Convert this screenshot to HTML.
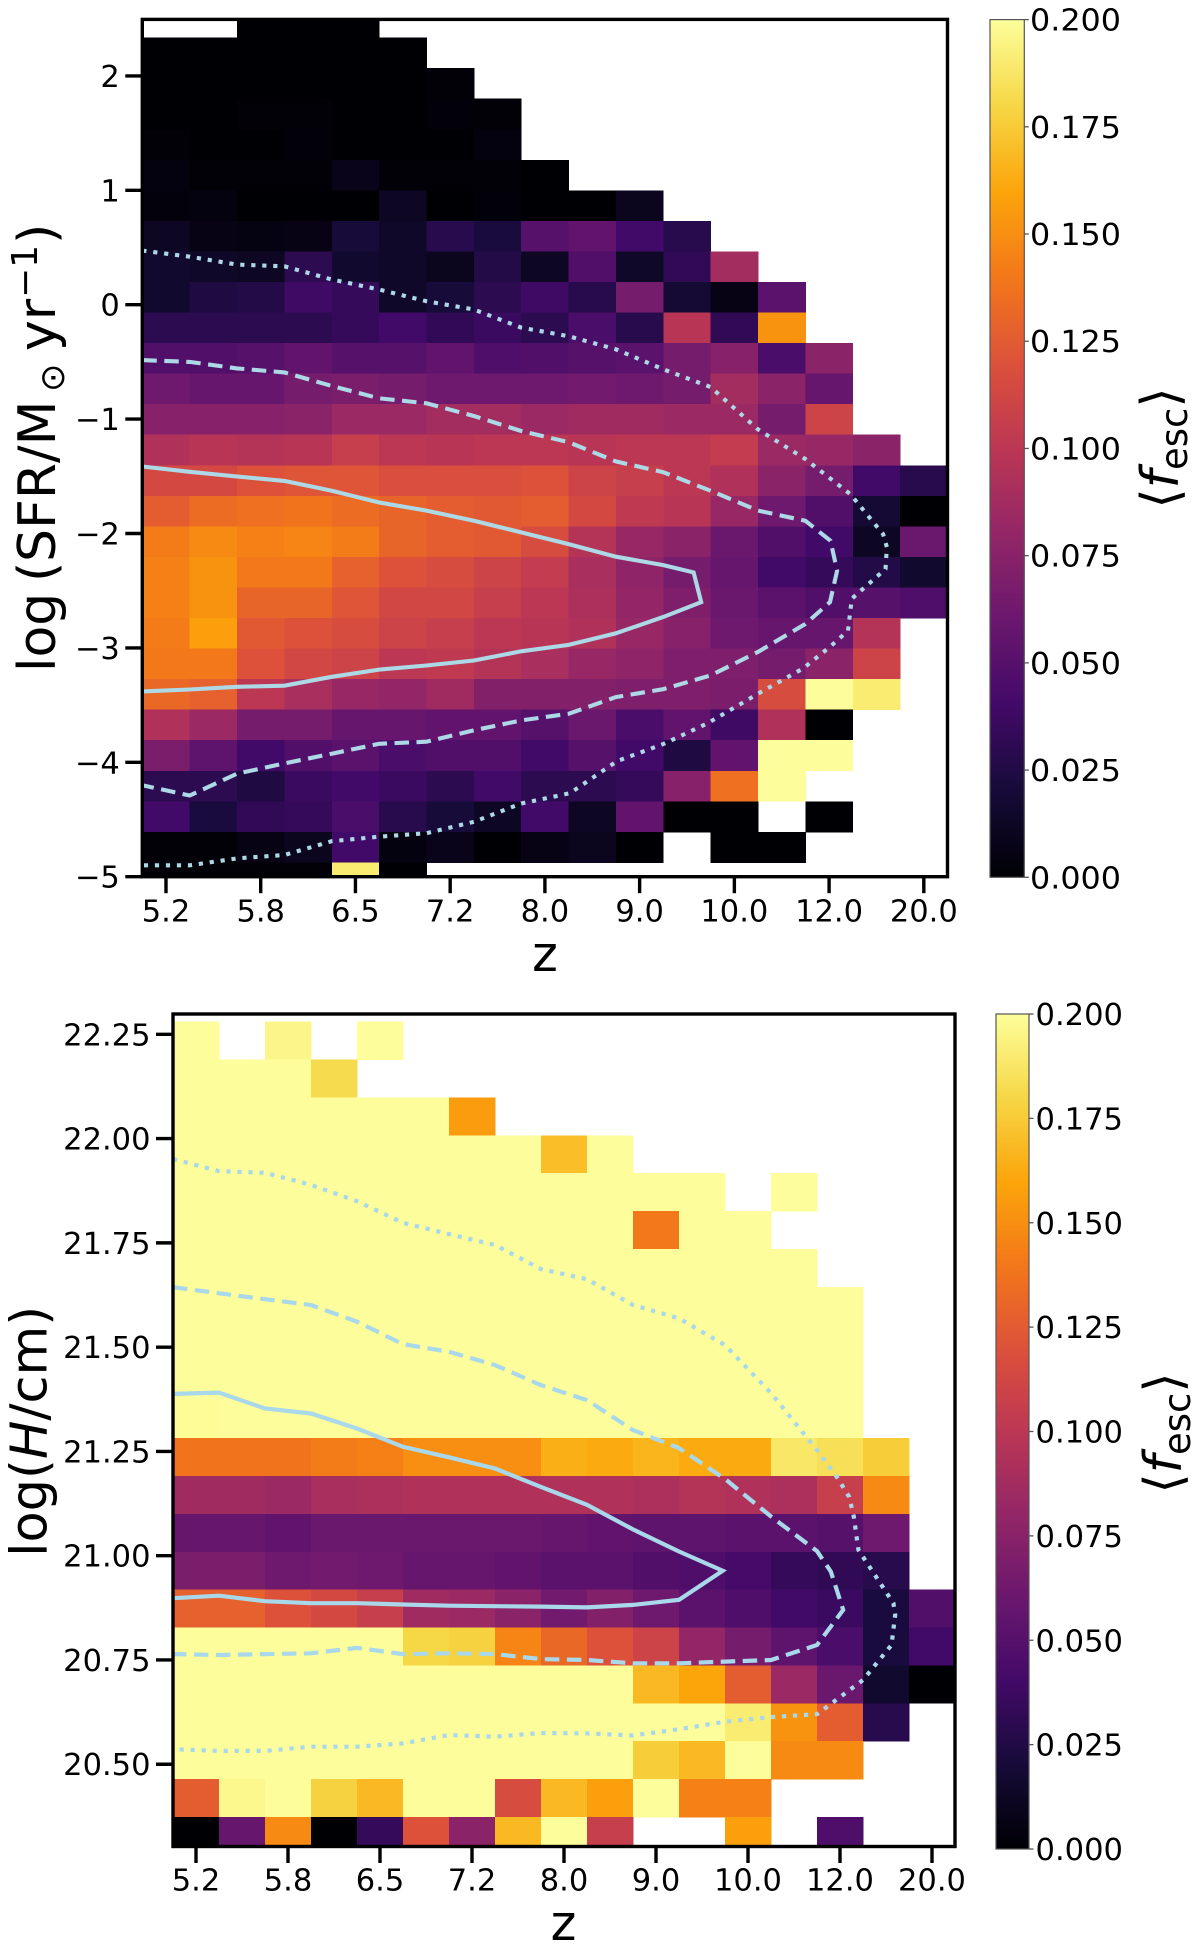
<!DOCTYPE html>
<html lang="en">
<head>
<meta charset="utf-8">
<title>Mean escape fraction heatmaps</title>
<style>
html,body{margin:0;padding:0;background:#fff;width:1200px;height:1957px;overflow:hidden}
svg{display:block}
text{font-family:"DejaVu Sans","Liberation Sans",sans-serif;fill:#000}
</style>
</head>
<body>
<svg id="chart" xmlns="http://www.w3.org/2000/svg" width="1200" height="1957" viewBox="0 0 1200 1957">
  <defs id="defs"></defs>
  <g id="panel-top"></g>
  <g id="panel-bottom"></g>

  <text x="545" y="971" text-anchor="middle" font-size="49">z</text>
  <text x="563.5" y="1940" text-anchor="middle" font-size="49">z</text>

  <text transform="translate(55,667) rotate(-90)" font-size="52"><tspan x="-5" y="0">log</tspan><tspan x="85" y="0">(</tspan><tspan x="105" y="0">SFR/M</tspan><tspan x="275" y="9" font-size="34">⊙</tspan><tspan x="316" y="0">yr</tspan><tspan x="369" y="-18" font-size="36">−1</tspan><tspan x="423" y="0">)</tspan></text>

  <text transform="translate(46.7,1551.7) rotate(-90)" font-size="51"><tspan x="-5">log(</tspan><tspan font-style="italic">H</tspan><tspan>/cm)</tspan></text>

  <text transform="translate(1178,448) rotate(-90)" text-anchor="middle" font-size="52">⟨<tspan font-style="italic">f</tspan><tspan font-size="37" dy="9">esc</tspan><tspan dy="-9">⟩</tspan></text>
  <text transform="translate(1181,1433) rotate(-90)" text-anchor="middle" font-size="52">⟨<tspan font-style="italic">f</tspan><tspan font-size="37" dy="9">esc</tspan><tspan dy="-9">⟩</tspan></text>
</svg>

<script>
const _ = null;

/* ---------- shared axis data ---------- */
const zTickLabels = ['5.2','5.8','6.5','7.2','8.0','9.0','10.0','12.0','20.0'];
const colorbarTicks = [0, 0.025, 0.05, 0.075, 0.1, 0.125, 0.15, 0.175, 0.2];
const sfrTicks = [2, 1, 0, -1, -2, -3, -4, -5];
const sfrTickLabels = ['2','1','0','−1','−2','−3','−4','−5'];
const sizeTicks = [22.25, 22, 21.75, 21.5, 21.25, 21, 20.75, 20.5];
const sizeTickLabels = ['22.25','22.00','21.75','21.50','21.25','21.00','20.75','20.50'];

/* ---------- top heatmap: mean f_esc per (z bin, SFR bin); rows run top to bottom ---------- */
const sfrRow00 = [_,_,0,0,0,_,_,_,_,_,_,_,_,_,_,_,_];
const sfrRow01 = [0,0,0,0,0,0,_,_,_,_,_,_,_,_,_,_,_];
const sfrRow02 = [0,0,0,0,0,0,.001,_,_,_,_,_,_,_,_,_,_];
const sfrRow03 = [0,0,.001,.001,0,0,.002,.001,_,_,_,_,_,_,_,_,_];
const sfrRow04 = [.001,0,0,.002,0,0,0,.004,_,_,_,_,_,_,_,_,_];
const sfrRow05 = [.004,.001,.001,.001,.008,.001,.001,.001,0,_,_,_,_,_,_,_,_];
const sfrRow06 = [.003,.004,0,0,0,.012,0,.002,0,0,.010,_,_,_,_,_,_];
const sfrRow07 = [.012,.006,.005,.006,.020,.014,.028,.022,.05,.056,.040,.028,_,_,_,_,_];
const sfrRow08 = [.016,.014,.012,.030,.016,.014,.010,.026,.012,.048,.014,.032,.088,_,_,_,_];
const sfrRow09 = [.016,.024,.026,.038,.034,.014,.020,.030,.038,.028,.066,.018,.006,.052,_,_,_];
const sfrRow10 = [.030,.030,.030,.030,.034,.040,.032,.036,.030,.044,.028,.098,.032,.152,_,_,_];
const sfrRow11 = [.048,.048,.050,.056,.050,.050,.056,.046,.048,.050,.052,.066,.074,.044,.076,_,_];
const sfrRow12 = [.062,.058,.058,.066,.068,.066,.062,.062,.062,.064,.062,.066,.088,.076,.058,_,_];
const sfrRow13 = [.074,.074,.074,.076,.084,.084,.088,.088,.084,.086,.086,.084,.084,.066,.110,_,_];
const sfrRow14 = [.094,.098,.096,.098,.106,.100,.098,.100,.100,.098,.100,.100,.104,.084,.082,.076,_];
const sfrRow15 = [.114,.114,.120,.122,.122,.118,.118,.118,.120,.110,.106,.100,.094,.076,.066,.040,.028];
const sfrRow16 = [.126,.134,.136,.138,.134,.130,.126,.124,.126,.114,.102,.098,.082,.062,.048,.018,0];
const sfrRow17 = [.142,.148,.144,.146,.142,.130,.126,.124,.116,.096,.082,.076,.060,.048,.040,.012,.060];
const sfrRow18 = [.144,.152,.140,.140,.128,.120,.116,.110,.104,.090,.078,.066,.058,.040,.034,.026,.016];
const sfrRow19 = [.144,.152,.130,.130,.122,.112,.112,.106,.100,.092,.080,.070,.060,.052,.048,.050,.046];
const sfrRow20 = [.142,.158,.124,.120,.116,.110,.106,.100,.098,.094,.082,.074,.062,.058,.058,.096,_];
const sfrRow21 = [.140,.140,.120,.112,.110,.100,.102,.096,.090,.082,.078,.070,.070,.066,.076,.110,_];
const sfrRow22 = [.132,.128,.100,.090,.082,.080,.086,.072,.072,.072,.070,.070,.068,.116,.200,.190,_];
const sfrRow23 = [.094,.084,.066,.066,.058,.058,.056,.056,.050,.060,.044,.056,.038,.094,0,_,_];
const sfrRow24 = [.068,.054,.040,.048,.052,.044,.048,.048,.040,.050,.040,.024,.056,.200,.200,_,_];
const sfrRow25 = [.030,.030,.024,.036,.040,.036,.030,.040,.030,.030,.034,.074,.136,.200,_,_,_];
const sfrRow26 = [.040,.022,.032,.034,.044,.028,.020,.012,.040,.012,.056,0,0,_,0,_,_];
const sfrRow27 = [.001,.001,.006,.010,.040,.004,.008,0,.006,.010,0,_,0,0,_,_,_];
const sfrRow28 = [.001,.001,.001,.001,.190,0,_,_,_,_,_,_,_,_,_,_,_];
const sfrGrid = [sfrRow00,sfrRow01,sfrRow02,sfrRow03,sfrRow04,sfrRow05,sfrRow06,sfrRow07,sfrRow08,sfrRow09,sfrRow10,sfrRow11,sfrRow12,sfrRow13,sfrRow14,sfrRow15,sfrRow16,sfrRow17,sfrRow18,sfrRow19,sfrRow20,sfrRow21,sfrRow22,sfrRow23,sfrRow24,sfrRow25,sfrRow26,sfrRow27,sfrRow28];

/* top contours: z-bin edge index and log SFR */
const sfrSolidZ = [0,1,2,3,4,5,6,7,8,9,10,11,11.64,11.8,11,10,9,8,7,6,5,4,3,2,1,0];
const sfrSolidV = [-1.414,-1.461,-1.502,-1.54,-1.627,-1.729,-1.80,-1.889,-1.99,-2.093,-2.203,-2.276,-2.34,-2.60,-2.73,-2.872,-2.974,-3.03,-3.11,-3.154,-3.19,-3.253,-3.33,-3.34,-3.364,-3.38];
const sfrDashedZ = [0,1,2,3,4,5,6,7,8,9,10,11,12,13,14,14.53,14.67,14.52,14,13,12,11,10,9,8,7,6,5,4,3,2,1,0];
const sfrDashedV = [-.484,-.50,-.557,-.592,-.711,-.818,-.862,-.973,-1.104,-1.202,-1.37,-1.464,-1.627,-1.80,-1.889,-2.064,-2.325,-2.6,-2.79,-3.035,-3.24,-3.36,-3.43,-3.576,-3.634,-3.72,-3.82,-3.838,-3.925,-4.01,-4.1,-4.29,-4.2];
const sfrDottedZ = [0,1,2,3,4,5,6,7,8,9,10,11,12,13,14,14.95,15.64,15.72,15.69,14.98,14.9,14.52,13.95,13,11.93,11,10.02,9.03,8,7,6,5,4,3,2,1,0];
const sfrDottedV = [.473,.42,.351,.336,.22,.133,.03,-.042,-.2,-.275,-.39,-.565,-.72,-1.09,-1.35,-1.656,-2.005,-2.12,-2.31,-2.57,-2.85,-2.99,-3.18,-3.4,-3.66,-3.84,-3.99,-4.27,-4.36,-4.52,-4.62,-4.65,-4.69,-4.81,-4.84,-4.9,-4.9];

/* ---------- bottom heatmap: mean f_esc per (z bin, log H bin); rows run top to bottom ---------- */
const sizeRow00 = [.2,_,.196,_,.2,_,_,_,_,_,_,_,_,_,_,_,_];
const sizeRow01 = [.2,.2,.2,.182,_,_,_,_,_,_,_,_,_,_,_,_,_];
const sizeRow02 = [.2,.2,.2,.2,.2,.2,.156,_,_,_,_,_,_,_,_,_,_];
const sizeRow03 = [.2,.2,.2,.2,.2,.2,.2,.2,.17,.2,_,_,_,_,_,_,_];
const sizeRow04 = [.2,.2,.2,.2,.2,.2,.2,.2,.2,.2,.2,.2,_,.2,_,_,_];
const sizeRow05 = [.2,.2,.2,.2,.2,.2,.2,.2,.2,.2,.14,.2,.2,_,_,_,_];
const sizeRow06 = [.2,.2,.2,.2,.2,.2,.2,.2,.2,.2,.2,.2,.2,.2,_,_,_];
const sizeRow07 = [.2,.2,.2,.2,.2,.2,.2,.2,.2,.2,.2,.2,.2,.2,.2,_,_];
const sizeRow08 = [.2,.2,.2,.2,.2,.2,.2,.2,.2,.2,.2,.2,.2,.2,.2,_,_];
const sizeRow09 = [.2,.2,.2,.2,.2,.2,.2,.2,.2,.2,.2,.2,.2,.2,.2,_,_];
const sizeRow10 = [.199,.2,.2,.2,.2,.2,.2,.2,.2,.2,.2,.2,.2,.2,.2,_,_];
const sizeRow11 = [.138,.138,.138,.142,.144,.150,.150,.150,.164,.162,.166,.162,.162,.188,.184,.176,_];
const sizeRow12 = [.086,.086,.084,.090,.092,.094,.094,.094,.094,.094,.092,.096,.094,.092,.106,.148,_];
const sizeRow13 = [.058,.058,.056,.060,.060,.060,.060,.060,.058,.056,.054,.054,.052,.052,.050,.062,_];
const sizeRow14 = [.068,.068,.062,.064,.062,.058,.058,.056,.052,.052,.048,.046,.042,.034,.032,.028,_];
const sizeRow15 = [.128,.128,.120,.114,.106,.086,.084,.076,.064,.072,.062,.052,.046,.040,.036,.022,.048];
const sizeRow16 = [.2,.2,.2,.2,.2,.18,.178,.146,.132,.120,.110,.080,.066,.054,.044,.022,.040];
const sizeRow17 = [.2,.2,.2,.2,.2,.2,.2,.2,.2,.2,.168,.160,.126,.084,.060,.016,0];
const sizeRow18 = [.2,.2,.2,.2,.2,.2,.2,.2,.2,.2,.2,.2,.190,.152,.126,.028,_];
const sizeRow19 = [.2,.2,.2,.2,.2,.2,.2,.2,.2,.2,.176,.168,.2,.148,.148,_,_];
const sizeRow20 = [.126,.197,.2,.178,.168,.2,.2,.116,.168,.158,.2,.144,.144,_,_,_,_];
const sizeRow21 = [0,.058,.148,0,.034,.120,.076,.168,.2,.106,_,_,.158,_,.046,_,_];
const sizeGrid = [sizeRow00,sizeRow01,sizeRow02,sizeRow03,sizeRow04,sizeRow05,sizeRow06,sizeRow07,sizeRow08,sizeRow09,sizeRow10,sizeRow11,sizeRow12,sizeRow13,sizeRow14,sizeRow15,sizeRow16,sizeRow17,sizeRow18,sizeRow19,sizeRow20,sizeRow21];

/* bottom contours: z-bin edge index and log H */
const sizeSolidZ = [0,1,2,3,4,5,6,7,8,9,10,11,11.95,11,10,9,8,7,6,5,4,3,2,1,0];
const sizeSolidV = [21.388,21.391,21.353,21.341,21.305,21.261,21.236,21.209,21.165,21.122,21.063,21.01,20.964,20.894,20.882,20.876,20.878,20.879,20.88,20.883,20.886,20.886,20.891,20.904,20.898];
const sizeDashedZ = [0,1,2,3,4,5,6,7,8,9,10,11,12,13,14,14.3,14.57,14,13,12,11,10,9,8,7,6,5,4,3,2,1,0];
const sizeDashedV = [21.644,21.629,21.615,21.601,21.561,21.507,21.489,21.457,21.409,21.373,21.301,21.258,21.184,21.094,21.011,20.962,20.87,20.786,20.75,20.746,20.742,20.742,20.75,20.752,20.764,20.766,20.764,20.779,20.766,20.764,20.762,20.764];
const sizeDottedZ = [0,1,2,3,4,5,6,7,8,9,10,11,12,13,14,14.43,14.7,14.8,14.9,15.66,15.7,15.62,15,14,13,12,11,10,9,8,7,6,5,4,3,2,1,0];
const sizeDottedV = [21.951,21.922,21.918,21.889,21.85,21.798,21.771,21.745,21.687,21.663,21.601,21.569,21.505,21.39,21.253,21.189,21.141,21.094,21.014,20.886,20.858,20.786,20.702,20.62,20.613,20.602,20.584,20.569,20.574,20.575,20.566,20.57,20.55,20.542,20.542,20.532,20.532,20.536];

/* ---------- inferno colormap ---------- */
const infernoStops = [[0,0,4],[22,11,57],[66,10,104],[106,23,110],[147,38,103],[188,55,84],[221,81,58],[243,120,25],[252,165,10],[246,215,70],[253,254,155]];
const colorMax = 0.2;
function inferno(t){
  t = Math.max(0, Math.min(1, t)) * (infernoStops.length - 1);
  const i = Math.min(Math.floor(t), infernoStops.length - 2), f = t - i;
  const a = infernoStops[i], b = infernoStops[i + 1];
  return 'rgb(' + [0,1,2].map(k => Math.round(a[k] + (b[k] - a[k]) * f)).join(',') + ')';
}

const NS = 'http://www.w3.org/2000/svg';
function el(tag, attrs, parent){
  const e = document.createElementNS(NS, tag);
  for (const k in attrs) e.setAttribute(k, attrs[k]);
  parent.appendChild(e);
  return e;
}

function drawPanel(p){
  const g = document.getElementById(p.id);
  const xOf = k => p.left + (p.right - p.left) * k / p.nCols;
  const yOf = v => p.bottom - (v - p.yMin) * (p.bottom - p.top) / (p.yMax - p.yMin);

  const clip = el('clipPath', {id: p.id + '-clip'}, document.getElementById('defs'));
  el('rect', {x: p.left, y: p.top, width: p.right - p.left, height: p.bottom - p.top}, clip);

  const cells = el('g', {'clip-path': 'url(#' + p.id + '-clip)', 'shape-rendering': 'crispEdges'}, g);
  p.grid.forEach((row, r) => {
    row.forEach((val, c) => {
      if (val === null) return;
      const yT = yOf(p.rowTop - r * p.rowStep), yB = yOf(p.rowTop - (r + 1) * p.rowStep);
      const cell = el('rect', {x: xOf(c), y: yT, width: xOf(c + 1) - xOf(c) + 0.4, height: yB - yT + 0.4, fill: inferno(val / colorMax)}, cells);
      
      
    });
  });

  const lines = el('g', {'clip-path': 'url(#' + p.id + '-clip)', fill: 'none', stroke: p.lineColor, 'stroke-width': p.lineWidth, 'stroke-linejoin': 'miter'}, g);
  p.contours.forEach(ct => {
    const d = ct.z.map((z, i) => (i ? 'L' : 'M') + xOf(z).toFixed(1) + ' ' + yOf(ct.v[i]).toFixed(1)).join('');
    const path = el('path', {d: d, 'stroke-dasharray': ct.dash}, lines);
    
    
  });

  const axisStyle = {stroke: '#000', 'stroke-width': 3.4, fill: 'none'};
  const spine = el('rect', Object.assign({x: p.left, y: p.top, width: p.right - p.left, height: p.bottom - p.top}, axisStyle), g);
  
  

  zTickLabels.forEach((lab, i) => {
    const x = xOf(2 * i + 0.5);
    const tick = el('line', {x1: x, x2: x, y1: p.bottom, y2: p.bottom + 16.5, stroke: '#000', 'stroke-width': 3.4}, g);
    
    
    const t = el('text', {x: x, y: p.bottom + p.xLabelDrop, 'text-anchor': 'middle', 'font-size': 30.5}, g);
    t.textContent = lab;
    
    
  });

  p.yTicks.forEach((v, i) => {
    const y = yOf(v);
    const tick = el('line', {x1: p.left - 17, x2: p.left, y1: y, y2: y, stroke: '#000', 'stroke-width': 3.4}, g);
    
    
    const t = el('text', {x: p.left - 22.5, y: y + 11, 'text-anchor': 'end', 'font-size': 30.5}, g);
    t.textContent = p.yLabels[i];
    
    
  });

  /* colorbar */
  const cb = p.cbar;
  const grad = el('linearGradient', {id: p.id + '-grad', x1: 0, y1: 1, x2: 0, y2: 0}, document.getElementById('defs'));
  for (let i = 0; i <= 64; i++) {
    el('stop', {offset: i / 64, 'stop-color': inferno(i / 64)}, grad);
  }
  const cbar = el('rect', {x: cb.x0, y: cb.y0, width: cb.x1 - cb.x0, height: cb.y1 - cb.y0, fill: 'url(#' + p.id + '-grad)', stroke: '#555', 'stroke-width': 1.2}, g);
  
  
  colorbarTicks.forEach(v => {
    const y = cb.y1 - (cb.y1 - cb.y0) * v / colorMax;
    const tick = el('line', {x1: cb.x1, x2: cb.x1 + 4.5, y1: y, y2: y, stroke: '#555', 'stroke-width': 1.3}, g);
    
    
    const t = el('text', {x: cb.labelX, y: y + 11, 'font-size': 30, textLength: cb.labelW, lengthAdjust: 'spacingAndGlyphs'}, g);
    t.textContent = v.toFixed(3);
    
    
  });
}

drawPanel({
  id: 'panel-top', grid: sfrGrid, nCols: 17,
  left: 142.3, right: 947.5, top: 19.4, bottom: 876.7,
  yMin: -5, yMax: 2.494, rowTop: 2.602, rowStep: 0.26705,
  yTicks: sfrTicks, yLabels: sfrTickLabels, xLabelDrop: 45,
  lineColor: '#add8e6', lineWidth: 4.1,
  contours: [
    {name: 'contour-solid', z: sfrSolidZ, v: sfrSolidV, dash: 'none'},
    {name: 'contour-dashed', z: sfrDashedZ, v: sfrDashedV, dash: '14.5 7.5'},
    {name: 'contour-dotted', z: sfrDottedZ, v: sfrDottedV, dash: '4.2 6.8'}
  ],
  cbar: {x0: 990, x1: 1024.3, y0: 19.6, y1: 877.3, labelX: 1030, labelW: 91}
});

drawPanel({
  id: 'panel-bottom', grid: sizeGrid, nCols: 17,
  left: 173, right: 955, top: 1014, bottom: 1846.5,
  yMin: 20.3028, yMax: 22.2987, rowTop: 22.2803, rowStep: 0.09079,
  yTicks: sizeTicks, yLabels: sizeTickLabels, xLabelDrop: 44,
  lineColor: '#a9d8ea', lineWidth: 4.2,
  contours: [
    {name: 'contour-solid', z: sizeSolidZ, v: sizeSolidV, dash: 'none'},
    {name: 'contour-dashed', z: sizeDashedZ, v: sizeDashedV, dash: '14.5 7.5'},
    {name: 'contour-dotted', z: sizeDottedZ, v: sizeDottedV, dash: '4.2 6.8'}
  ],
  cbar: {x0: 996, x1: 1029, y0: 1014, y1: 1849, labelX: 1035.5, labelW: 87.5}
});
</script>
</body>
</html>
